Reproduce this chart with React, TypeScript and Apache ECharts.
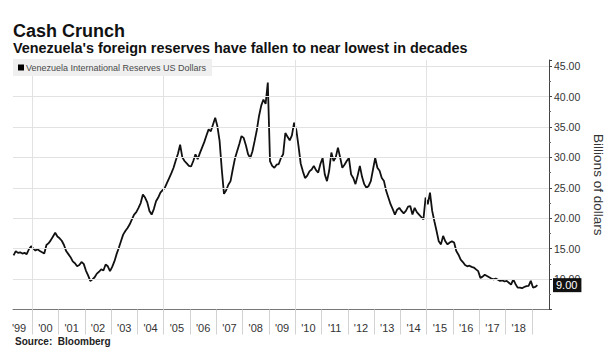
import React, { useEffect, useRef } from "react";
import * as echarts from "echarts";

const TITLE = "Cash Crunch";
const SUBTITLE = "Venezuela's foreign reserves have fallen to near lowest in decades";
const SOURCE = "Source:  Bloomberg";
const SERIES_NAME = "Venezuela International Reserves US Dollars";
const Y_NAME = "Billions of dollars";

// monthly observations, first one is April 1999
const FIRST_YEAR = 1999;
const FIRST_MONTH = 4;
const r1999 = [13.9, 14.6, 14.3, 14.4, 14.2, 14.3, 14.1, 14.9, 15.4];
const r2000 = [15.0, 14.7, 14.9, 14.6, 14.4, 14.2, 15.6, 15.9, 16.4, 17.0, 17.6, 17.0];
const r2001 = [16.7, 16.3, 15.6, 14.6, 14.1, 13.6, 12.9, 12.6, 12.1, 12.3, 12.8, 12.5];
const r2002 = [11.4, 10.6, 9.7, 9.95, 10.3, 10.9, 11.2, 11.6, 11.4, 12.4, 12.1, 11.3];
const r2003 = [12.0, 12.9, 14.1, 15.1, 16.2, 17.3, 17.9, 18.4, 19.0, 19.8, 20.6, 21.0];
const r2004 = [21.7, 22.5, 23.9, 23.4, 22.6, 21.2, 20.6, 21.5, 22.8, 23.4, 24.2, 24.6];
const r2005 = [25.0, 25.8, 26.6, 27.4, 28.3, 29.5, 30.6, 32.1, 30.0, 29.4, 29.0, 28.6];
const r2006 = [28.5, 29.4, 30.5, 29.7, 30.7, 31.6, 32.5, 33.6, 34.6, 34.3, 35.4, 36.5];
const r2007 = [35.1, 32.7, 28.0, 24.0, 24.6, 25.5, 26.1, 28.0, 29.8, 31.0, 32.2, 33.5];
const r2008 = [33.2, 32.0, 30.5, 29.9, 31.0, 32.7, 34.5, 36.8, 38.5, 39.5, 38.8, 42.3];
const r2009 = [29.4, 28.6, 28.3, 28.8, 28.9, 29.9, 30.5, 34.0, 33.4, 32.8, 33.6, 35.7];
const r2010 = [34.5, 31.9, 29.0, 27.7, 26.6, 27.0, 27.7, 28.0, 28.6, 27.9, 27.5, 28.9];
const r2011 = [29.9, 27.2, 26.1, 27.8, 30.8, 29.4, 30.0, 31.6, 30.0, 28.3, 28.8, 29.4];
const r2012 = [29.9, 27.2, 26.6, 25.6, 27.0, 28.6, 26.8, 25.6, 25.0, 25.3, 26.1, 28.0];
const r2013 = [29.9, 28.3, 27.8, 26.6, 26.1, 24.5, 23.4, 22.3, 21.5, 20.6, 21.4, 21.7];
const r2014 = [21.2, 20.8, 21.2, 21.9, 22.0, 20.6, 21.7, 21.0, 20.6, 20.2, 19.8, 23.4];
const r2015 = [22.3, 24.2, 21.2, 19.5, 17.9, 16.2, 15.7, 17.1, 16.2, 15.7, 16.0, 16.2];
const r2016 = [16.0, 14.6, 14.0, 13.2, 12.8, 12.3, 12.1, 12.2, 12.0, 11.9, 11.6, 11.3];
const r2017 = [10.2, 10.4, 10.7, 10.5, 10.3, 10.1, 9.95, 10.1, 9.9, 9.7, 9.8, 9.6];
const r2018 = [9.7, 9.4, 9.1, 9.95, 9.2, 8.6, 8.6, 8.5, 8.7, 8.85, 8.9, 9.7];
const r2019 = [8.6, 8.7, 9.0];

const reserves = [
  ...r1999, ...r2000, ...r2001, ...r2002, ...r2003, ...r2004, ...r2005,
  ...r2006, ...r2007, ...r2008, ...r2009, ...r2010, ...r2011, ...r2012,
  ...r2013, ...r2014, ...r2015, ...r2016, ...r2017, ...r2018, ...r2019,
];

const labelYears = [
  1999, 2000, 2001, 2002, 2003, 2004, 2005, 2006, 2007, 2008,
  2009, 2010, 2011, 2012, 2013, 2014, 2015, 2016, 2017, 2018,
];
const tickYears = [
  2000, 2001, 2002, 2003, 2004, 2005, 2006, 2007, 2008, 2009,
  2010, 2011, 2012, 2013, 2014, 2015, 2016, 2017, 2018, 2019,
];
const gridYears = [2000, 2005, 2010, 2015];
const gridValues = [10, 15, 20, 25, 30, 35, 40, 45];

const FONT = '"Liberation Sans", Arial, sans-serif';

export default function App() {
  const ref = useRef<HTMLDivElement>(null);

  useEffect(() => {
    if (!ref.current) return;
    document.body.style.margin = "0";
    const chart = echarts.init(ref.current, null, { renderer: "svg" });
    const points = reserves.map((v, i) => [
      FIRST_YEAR + (FIRST_MONTH - 1 + i + 0.5) / 12,
      v,
    ]);
    const last = reserves[reserves.length - 1];

    chart.setOption({
      animation: false,
      backgroundColor: "#fff",
      textStyle: { fontFamily: FONT },
      title: [
        {
          text: TITLE,
          left: 8,
          top: 17,
          textStyle: { fontFamily: FONT, fontSize: 18, fontWeight: "bold", color: "#111" },
        },
        {
          text: SUBTITLE,
          left: 8,
          top: 36,
          textStyle: { fontFamily: FONT, fontSize: 14.4, fontWeight: "bold", color: "#111" },
        },
        {
          text: SOURCE,
          left: 10,
          top: 331,
          textStyle: { fontFamily: FONT, fontSize: 10, fontWeight: "bold", color: "#222" },
        },
      ],
      legend: {
        data: [SERIES_NAME],
        left: 13,
        top: 59,
        z: 10,
        padding: [4, 6, 4, 5],
        backgroundColor: "#efefef",
        icon: "rect",
        itemWidth: 6,
        itemHeight: 6,
        itemGap: 0,
        itemStyle: { color: "#000" },
        lineStyle: { width: 0 },
        textStyle: { fontFamily: FONT, fontSize: 9, color: "#4a4a4a", padding: [0, 0, 0, -3] },
      },
      grid: {
        left: 13,
        right: 61,
        top: 60,
        bottom: 44.5,
        containLabel: false,
        outerBoundsMode: "none",
      },
      xAxis: {
        type: "value",
        min: 1999.27,
        max: 2019.65,
        axisLine: { show: true, lineStyle: { color: "#777", width: 1 } },
        axisTick: {
          show: true,
          customValues: tickYears,
          length: 25,
          lineStyle: { color: "#d2d2d2", width: 1 },
        },
        axisLabel: {
          customValues: labelYears.map((y) => y + 0.5),
          formatter: (v: number) => "'" + String(Math.floor(v)).slice(2),
          fontFamily: FONT,
          fontSize: 11,
          color: "#333",
          margin: 13,
        },
        splitLine: { show: false },
      },
      yAxis: {
        type: "value",
        position: "right",
        min: 5,
        max: 46,
        interval: 5,
        name: Y_NAME,
        nameLocation: "middle",
        nameRotate: -90,
        nameGap: 33,
        nameTextStyle: { fontFamily: FONT, fontSize: 13.5, color: "#333" },
        axisLine: { show: true, lineStyle: { color: "#444", width: 1 } },
        axisTick: { show: true, length: 3, lineStyle: { color: "#444" } },
        minorTick: { show: true, splitNumber: 2, length: 2, lineStyle: { color: "#666" } },
        axisLabel: {
          fontFamily: FONT,
          fontSize: 10.5,
          color: "#333",
          margin: 5,
          formatter: (v: number) =>
            v >= 10 && v <= 45 && v % 5 === 0 ? v.toFixed(2) : "",
        },
        splitLine: { show: false },
      },
      series: [
        {
          name: "gridlines",
          type: "line",
          data: [],
          z: 1,
          silent: true,
          markLine: {
            silent: true,
            symbol: ["none", "none"],
            label: { show: false },
            lineStyle: { color: "#e2e2e2", type: "solid", width: 1 },
            data: [
              ...gridYears.map((y) => ({ xAxis: y })),
              ...gridValues.map((v) => ({ yAxis: v })),
            ],
          },
        },
        {
          name: SERIES_NAME,
          type: "line",
          data: points,
          z: 3,
          showSymbol: false,
          symbol: "none",
          color: "#000",
          lineStyle: { color: "#111", width: 1.8 },
          markLine: {
            silent: true,
            symbol: ["none", "none"],
            lineStyle: { color: "rgba(0,0,0,0)", width: 1, type: "solid" },
            data: [{ yAxis: last }],
            label: {
              show: true,
              position: "end",
              distance: 4,
              formatter: () => last.toFixed(2),
              backgroundColor: "#111",
              color: "#fff",
              fontFamily: FONT,
              fontSize: 11,
              padding: [2, 4, 1, 3],
            },
          },
        },
      ],
    });

    return () => chart.dispose();
  }, []);

  return <div ref={ref} style={{ width: 610, height: 354 }} />;
}
